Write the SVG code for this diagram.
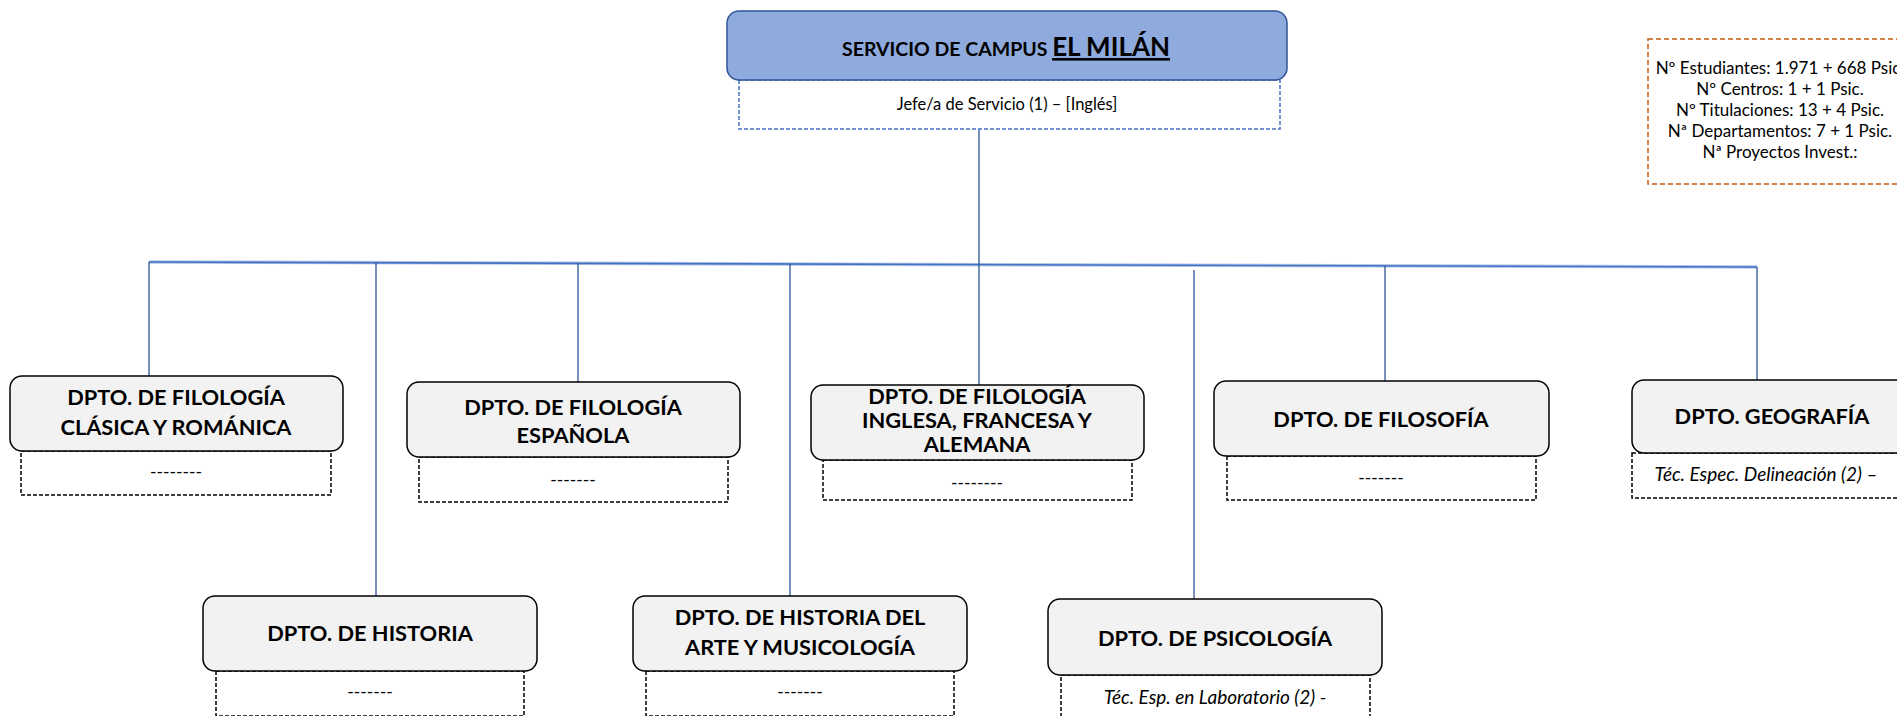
<svg xmlns="http://www.w3.org/2000/svg" width="1897" height="716" viewBox="0 0 1897 716">
<style>
.dept{fill:#f2f2f2;stroke:#000;stroke-width:1.5}
.sub{fill:#fff;stroke:#000;stroke-width:1.5;stroke-dasharray:4 2}
.t{font-family:Lato,"Liberation Sans",sans-serif;font-weight:bold;font-size:21.8px;fill:#000;text-anchor:middle}
.s{font-family:Lato,"Liberation Sans",sans-serif;font-size:16.5px;fill:#000;text-anchor:middle}
.d{font-family:Lato,"Liberation Sans",sans-serif;font-size:17.5px;fill:#000;text-anchor:middle}
.i{font-family:Lato,"Liberation Sans",sans-serif;font-size:19px;font-style:italic;fill:#000;text-anchor:middle}
.st{font-family:Lato,"Liberation Sans",sans-serif;font-size:17px;fill:#000;text-anchor:middle}
.c{stroke:#2f5597;stroke-width:1.3;fill:none}
</style>
<rect width="1897" height="716" fill="#fff"/>
<g id="connectors">
<line x1="149" y1="262" x2="1757" y2="267" stroke="#b4c7e7" stroke-width="3.5"/>
<line x1="149" y1="262" x2="1757" y2="267" stroke="#4472c4" stroke-width="1.6"/>
<line class="c" x1="979" y1="129" x2="979" y2="385"/>
<line class="c" x1="149" y1="262" x2="149" y2="376"/>
<line class="c" x1="376" y1="263" x2="376" y2="596"/>
<line class="c" x1="578" y1="263" x2="578" y2="382"/>
<line class="c" x1="790" y1="264" x2="790" y2="596"/>
<line class="c" x1="1194" y1="270" x2="1194" y2="599"/>
<line class="c" x1="1385" y1="266" x2="1385" y2="381"/>
<line class="c" x1="1757" y1="267" x2="1757" y2="380"/>
</g>
<g id="servicio">
<rect x="739" y="80" width="541" height="49" fill="#fff" stroke="#4472c4" stroke-width="1.5" stroke-dasharray="4 2"/>
<rect x="727" y="11" width="560" height="69" rx="12" fill="#8faadc" stroke="#2f5597" stroke-width="1.5"/>
<text x="1006" y="56" text-anchor="middle" font-family="Lato,'Liberation Sans',sans-serif" font-weight="bold" fill="#000"><tspan font-size="19.5px">SERVICIO DE CAMPUS </tspan><tspan font-size="26px" text-decoration="underline">EL MILÁN</tspan></text>
<text class="s" x="1007" y="110">Jefe/a de Servicio (1) – [Inglés]</text>
</g>
<g id="stats">
<rect x="1648" y="39" width="300" height="145" fill="#fff" stroke="#c55a11" stroke-width="1.5" stroke-dasharray="5 3"/>
<text class="st" x="1780" y="74">Nº Estudiantes: 1.971 + 668 Psic.</text>
<text class="st" x="1780" y="95">Nº Centros: 1 + 1 Psic.</text>
<text class="st" x="1780" y="116">Nº Titulaciones: 13 + 4 Psic.</text>
<text class="st" x="1780" y="137">Nª Departamentos: 7 + 1 Psic.</text>
<text class="st" x="1780" y="158">Nª Proyectos Invest.:</text>
</g>
<g id="d1">
<rect class="sub" x="21" y="451" width="310" height="44"/>
<rect class="dept" x="10" y="376" width="333" height="75" rx="12"/>
<text class="t" x="176" y="405">DPTO. DE FILOLOGÍA</text>
<text class="t" x="176" y="435">CLÁSICA Y ROMÁNICA</text>
<text class="d" x="176" y="478">--------</text>
</g>
<g id="d2">
<rect class="sub" x="419" y="457" width="309" height="45"/>
<rect class="dept" x="407" y="382" width="333" height="75" rx="12"/>
<text class="t" x="573" y="415">DPTO. DE FILOLOGÍA</text>
<text class="t" x="573" y="443">ESPAÑOLA</text>
<text class="d" x="573" y="486">-------</text>
</g>
<g id="d3">
<rect class="sub" x="823" y="460" width="309" height="40"/>
<rect class="dept" x="811" y="385" width="333" height="75" rx="12"/>
<text class="t" x="977" y="404">DPTO. DE FILOLOGÍA</text>
<text class="t" x="977" y="428">INGLESA, FRANCESA Y</text>
<text class="t" x="977" y="452">ALEMANA</text>
<text class="d" x="977" y="489">--------</text>
</g>
<g id="d4">
<rect class="sub" x="1227" y="456" width="309" height="44"/>
<rect class="dept" x="1214" y="381" width="335" height="75" rx="12"/>
<text class="t" x="1381" y="427">DPTO. DE FILOSOFÍA</text>
<text class="d" x="1381" y="484">-------</text>
</g>
<g id="d5">
<rect class="sub" x="1632" y="453" width="290" height="45"/>
<rect class="dept" x="1632" y="380" width="290" height="73" rx="12"/>
<text class="t" x="1772" y="424">DPTO. GEOGRAFÍA</text>
<text class="i" x="1766" y="481">Téc. Espec. Delineación (2) –</text>
</g>
<g id="d6">
<rect class="sub" x="216" y="671" width="308" height="45"/>
<rect class="dept" x="203" y="596" width="334" height="75" rx="12"/>
<text class="t" x="370" y="641">DPTO. DE HISTORIA</text>
<text class="d" x="370" y="698">-------</text>
</g>
<g id="d7">
<rect class="sub" x="646" y="671" width="308" height="45"/>
<rect class="dept" x="633" y="596" width="334" height="75" rx="12"/>
<text class="t" x="800" y="625">DPTO. DE HISTORIA DEL</text>
<text class="t" x="800" y="655">ARTE Y MUSICOLOGÍA</text>
<text class="d" x="800" y="698">-------</text>
</g>
<g id="d8">
<rect class="sub" x="1061" y="675" width="309" height="60"/>
<rect class="dept" x="1048" y="599" width="334" height="76" rx="12"/>
<text class="t" x="1215" y="646">DPTO. DE PSICOLOGÍA</text>
<text class="i" x="1215" y="704">Téc. Esp. en Laboratorio (2) -</text>
</g>
</svg>
